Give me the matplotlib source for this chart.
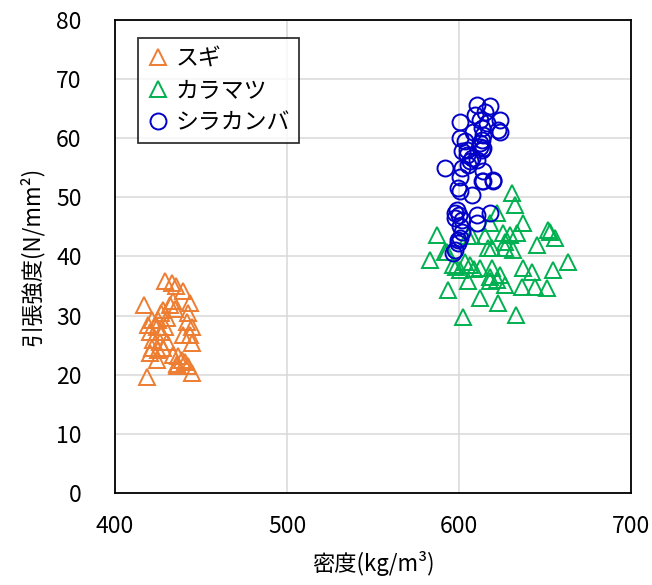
import matplotlib
matplotlib.use("Agg")
import matplotlib.pyplot as plt

plt.rcParams['font.family'] = ['Noto Sans CJK JP', 'DejaVu Sans']

# 密度 (kg/m3) と 引張強度 (N/mm2)
sugi_x = [429.1, 433.0, 435.5, 439.7, 417.0, 443.6, 428.0, 432.0, 433.9, 434.9,
          427.0, 442.6, 421.3, 425.2, 430.0, 441.6, 419.4, 424.2, 429.0, 444.6,
          420.3, 427.0, 439.7, 443.6, 422.3, 426.2, 430.0, 444.6, 421.3, 425.2,
          428.0, 420.3, 424.2, 434.0, 436.8, 438.7, 440.7, 435.9, 442.6, 444.6,
          418.4, 436.0]
sugi_y = [35.8, 35.5, 35.0, 34.1, 31.8, 32.1, 31.0, 31.8, 32.4, 31.2,
          30.4, 30.4, 29.3, 29.3, 29.6, 29.0, 28.4, 28.1, 28.1, 28.1,
          27.3, 27.3, 26.7, 26.7, 25.9, 25.6, 25.6, 25.3, 24.5, 24.2,
          24.5, 23.6, 22.5, 23.4, 23.1, 22.5, 22.2, 21.9, 21.4, 20.3,
          19.7, 21.4]

karamatsu_x = [630.6, 632.6, 621.9, 637.0, 618.0, 651.9, 653.0, 655.8, 587.0, 625.8,
               629.7, 633.6, 615.1, 605.4, 645.1, 626.7, 619.0, 626.7, 631.6, 592.8,
               583.1, 663.6, 596.6, 603.5, 606.4, 612.2, 637.4, 654.8, 619.0, 623.8,
               600.6, 642.2, 618.0, 605.4, 621.9, 626.7, 636.5, 644.2, 651.0, 593.8,
               618.0, 612.2, 622.9, 602.5, 633.1, 591.9, 607.4, 617.0, 598.0, 609.0]
karamatsu_y = [50.7, 48.7, 47.3, 45.6, 45.6, 44.5, 44.2, 43.1, 43.7, 43.9,
               43.7, 43.9, 43.4, 43.4, 42.0, 42.5, 41.4, 41.4, 41.1, 40.8,
               39.4, 39.1, 38.6, 39.1, 38.6, 38.0, 38.0, 37.7, 38.0, 36.9,
               37.7, 37.4, 36.6, 35.8, 36.0, 35.2, 34.9, 34.9, 34.6, 34.3,
               35.8, 32.9, 32.1, 29.8, 30.1, 40.8, 43.4, 41.4, 38.2, 37.9]

shirakamba_x = [610.3, 618.0, 615.1, 609.3, 612.2, 623.8, 616.1, 600.6, 622.9, 623.8,
                613.2, 608.3, 614.1, 600.6, 613.2, 612.2, 614.1, 603.5, 613.2, 601.6,
                604.5, 612.0, 604.5, 607.4, 610.3, 606.4, 605.4, 591.9, 601.6, 614.1,
                600.6, 613.2, 619.9, 599.6, 600.6, 607.4, 598.6, 597.7, 600.0, 597.7,
                601.6, 610.3, 618.0, 610.3, 600.6, 601.6, 600.6, 599.6, 597.7, 596.7,
                614.0, 620.0, 599.6]
shirakamba_y = [65.7, 65.5, 64.5, 64.0, 63.1, 63.1, 62.5, 62.8, 61.4, 61.1,
                61.7, 61.1, 60.6, 60.0, 59.7, 59.2, 58.3, 59.5, 58.0, 57.8,
                58.0, 58.6, 57.2, 56.6, 56.3, 56.1, 55.5, 54.9, 54.9, 54.4,
                53.5, 52.7, 53.0, 51.6, 51.0, 50.4, 47.9, 47.3, 47.1, 46.5,
                46.2, 47.0, 47.3, 45.6, 45.1, 44.2, 43.1, 42.2, 41.1, 40.6,
                52.7, 52.7, 42.8]

fig = plt.figure(figsize=(6.52, 5.85), dpi=100)
ax = fig.add_axes([0.1764, 0.1573, 0.7914, 0.8085])

ax.plot(sugi_x, sugi_y, linestyle='none', marker='^', ms=11, mfc='none',
        mec='#ED7D31', mew=1.4, label='スギ')
ax.plot(karamatsu_x, karamatsu_y, linestyle='none', marker='^', ms=11, mfc='none',
        mec='#00B050', mew=1.4, label='カラマツ')
ax.plot(shirakamba_x, shirakamba_y, linestyle='none', marker='o', ms=11.5, mfc='none',
        mec='#0000C8', mew=1.4, label='シラカンバ')

ax.set_xlim(400, 700)
ax.set_ylim(0, 80)
ax.set_xticks([400, 500, 600, 700])
ax.set_yticks(range(0, 81, 10))
ax.grid(True, color='#D9D9D9', linewidth=1.1)
ax.set_axisbelow(True)
ax.tick_params(length=0, labelsize=16.5)
ax.tick_params(axis='y', pad=24)
ax.tick_params(axis='x', pad=16)
for s in ax.spines.values():
    s.set_linewidth(1.3)
    s.set_color('black')

ax.set_xlabel('密度(kg/m³)', fontsize=16, labelpad=9)
ax.set_ylabel('引張強度(N/mm²)', fontsize=16, labelpad=9)

leg = ax.legend(loc='upper left', bbox_to_anchor=(0.044, 0.963), fontsize=16.5,
                frameon=True, fancybox=False, handletextpad=0.25, borderpad=0.4,
                labelspacing=0.4, handlelength=1.0, borderaxespad=0)
leg.get_frame().set_edgecolor('black')
leg.get_frame().set_linewidth(1.3)

fig.savefig('out.png', dpi=100)
